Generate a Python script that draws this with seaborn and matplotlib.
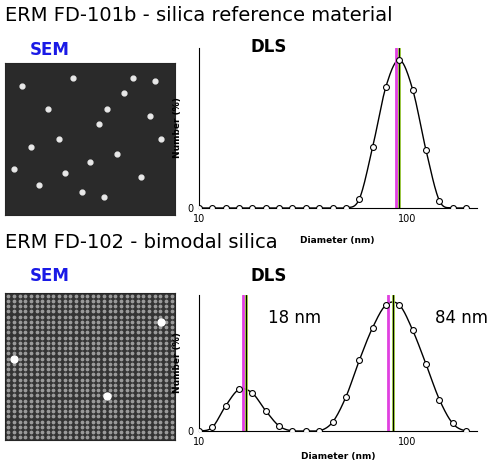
import numpy as np
import matplotlib
matplotlib.use("Agg")
import matplotlib.pyplot as plt
import seaborn as sns

# DLS number distributions, log-spaced bins (10 nm .. ~200 nm)
bin_index = np.arange(21)
step_dec = 0.0642
diameters = 10 * 10 ** (bin_index * step_dec)
top_values = [0, 0, 0, 0, 0, 0, 0, 0, 0, 0, 0, 0, 0.06, 0.41, 0.82, 1.0, 0.80, 0.39, 0.05, 0, 0]
bottom_values = [0, 0.03, 0.20, 0.33, 0.30, 0.16, 0.04, 0, 0, 0, 0.07, 0.27, 0.56, 0.82, 1.0, 1.0,
                 0.80, 0.53, 0.25, 0.06, 0]
top_lines = [(88.8, "#e040e0"), (91.6, "#9acd32")]
bottom_lines = [(16.2, "#e040e0"), (16.8, "#9acd32"), (81.0, "#e040e0"), (86.0, "#9acd32")]

# a few particle positions for the SEM stand-in images (fractions of panel)
sem_top_x = [0.1, 0.25, 0.4, 0.55, 0.7, 0.85, 0.15, 0.32, 0.5, 0.66, 0.8, 0.92, 0.2, 0.45, 0.6, 0.75, 0.35, 0.05, 0.88, 0.58]
sem_top_y = [0.85, 0.7, 0.9, 0.6, 0.8, 0.65, 0.45, 0.5, 0.35, 0.4, 0.25, 0.5, 0.2, 0.15, 0.7, 0.9, 0.28, 0.3, 0.88, 0.12]


def smooth(x, y, n=20):
    lx = np.log10(x)
    y = np.asarray(y, float)
    px = np.concatenate([[2 * lx[0] - lx[1]], lx, [2 * lx[-1] - lx[-2]]])
    py = np.concatenate([[y[0]], y, [y[-1]]])
    xs, ys = [], []
    for i in range(1, len(px) - 2):
        t = np.linspace(0, 1, n, endpoint=False)
        for arr, out in ((px, xs), (py, ys)):
            p0, p1, p2, p3 = arr[i - 1:i + 3]
            out.extend(0.5 * (2 * p1 + (-p0 + p2) * t + (2 * p0 - 5 * p1 + 4 * p2 - p3) * t ** 2
                              + (-p0 + 3 * p1 - 3 * p2 + p3) * t ** 3))
    xs.append(lx[-1]); ys.append(y[-1])
    return 10 ** np.array(xs), np.clip(ys, 0, None)


def dls(ax, values, lines):
    sx, sy = smooth(diameters, values)
    sns.lineplot(x=sx, y=sy, ax=ax, color="black", lw=1, sort=False)
    sns.scatterplot(x=diameters, y=values, ax=ax, s=18, facecolor="white", edgecolor="black",
                    linewidth=0.8, zorder=3)
    for d, c in lines:
        ax.axvline(d, color=c, lw=2)
        if c != "#e040e0":
            ax.axvline(d, color="black", lw=0.8)
    ax.set_xscale("log")
    ax.set_xlim(10, 217)
    ax.set_ylim(0, 1.08)
    ax.set_xticks([10, 100])
    ax.set_xticklabels(["10", "100"])
    ax.minorticks_off()
    ax.set_yticks([0])
    ax.tick_params(labelsize=7, length=0, pad=4, colors="black")
    ax.set_ylabel("Number (%)", fontsize=6.5, fontweight="bold", labelpad=4, color="black")
    ax.set_xlabel("")
    for s in ("top", "right"):
        ax.spines[s].set_visible(False)
    for s in ("left", "bottom"):
        ax.spines[s].set_color("black")


sns.set_style("white")
plt.rcParams["text.color"] = "black"
fig = plt.figure(figsize=(5.0, 4.76), dpi=100)

# SEM stand-ins
s1 = fig.add_axes([0.01, 0.548, 0.34, 0.32])
s1.set_facecolor("#2a2a2a")
s1.scatter(sem_top_x, sem_top_y, s=12, color="#e8e8e8")
s1.set_xlim(0, 1); s1.set_ylim(0, 1); s1.set_xticks([]); s1.set_yticks([])
s2 = fig.add_axes([0.01, 0.075, 0.34, 0.31])
gx, gy = np.meshgrid(np.linspace(0.02, 0.98, 30), np.linspace(0.02, 0.98, 28))
s2.set_facecolor("#333333")
s2.scatter(gx.ravel(), gy.ravel(), s=3, color="#9a9a9a")
s2.scatter([0.05, 0.92, 0.6], [0.55, 0.8, 0.3], s=25, color="white")
s2.set_xlim(0, 1); s2.set_ylim(0, 1); s2.set_xticks([]); s2.set_yticks([])

fig.text(0.01, 0.955, "ERM FD-101b - silica reference material", fontsize=14)
fig.text(0.06, 0.885, "SEM", fontsize=12, fontweight="bold", color="#1a1ae6")
fig.text(0.50, 0.89, "DLS", fontsize=12, fontweight="bold")
fig.text(0.01, 0.48, "ERM FD-102 - bimodal silica", fontsize=14)
fig.text(0.06, 0.41, "SEM", fontsize=12, fontweight="bold", color="#1a1ae6")
fig.text(0.50, 0.41, "DLS", fontsize=12, fontweight="bold")

ax1 = fig.add_axes([0.398, 0.563, 0.556, 0.336])
dls(ax1, top_values, top_lines)
fig.text(0.60, 0.49, "Diameter (nm)", fontsize=6.5, fontweight="bold")

ax2 = fig.add_axes([0.398, 0.0945, 0.556, 0.286])
dls(ax2, bottom_values, bottom_lines)
ax2.set_xlabel("Diameter (nm)", fontsize=6.5, fontweight="bold", color="black")
ax2.text(21.5, 0.86, "18 nm", fontsize=12)
ax2.text(136, 0.86, "84 nm", fontsize=12)

fig.savefig("out.png", dpi=100)
